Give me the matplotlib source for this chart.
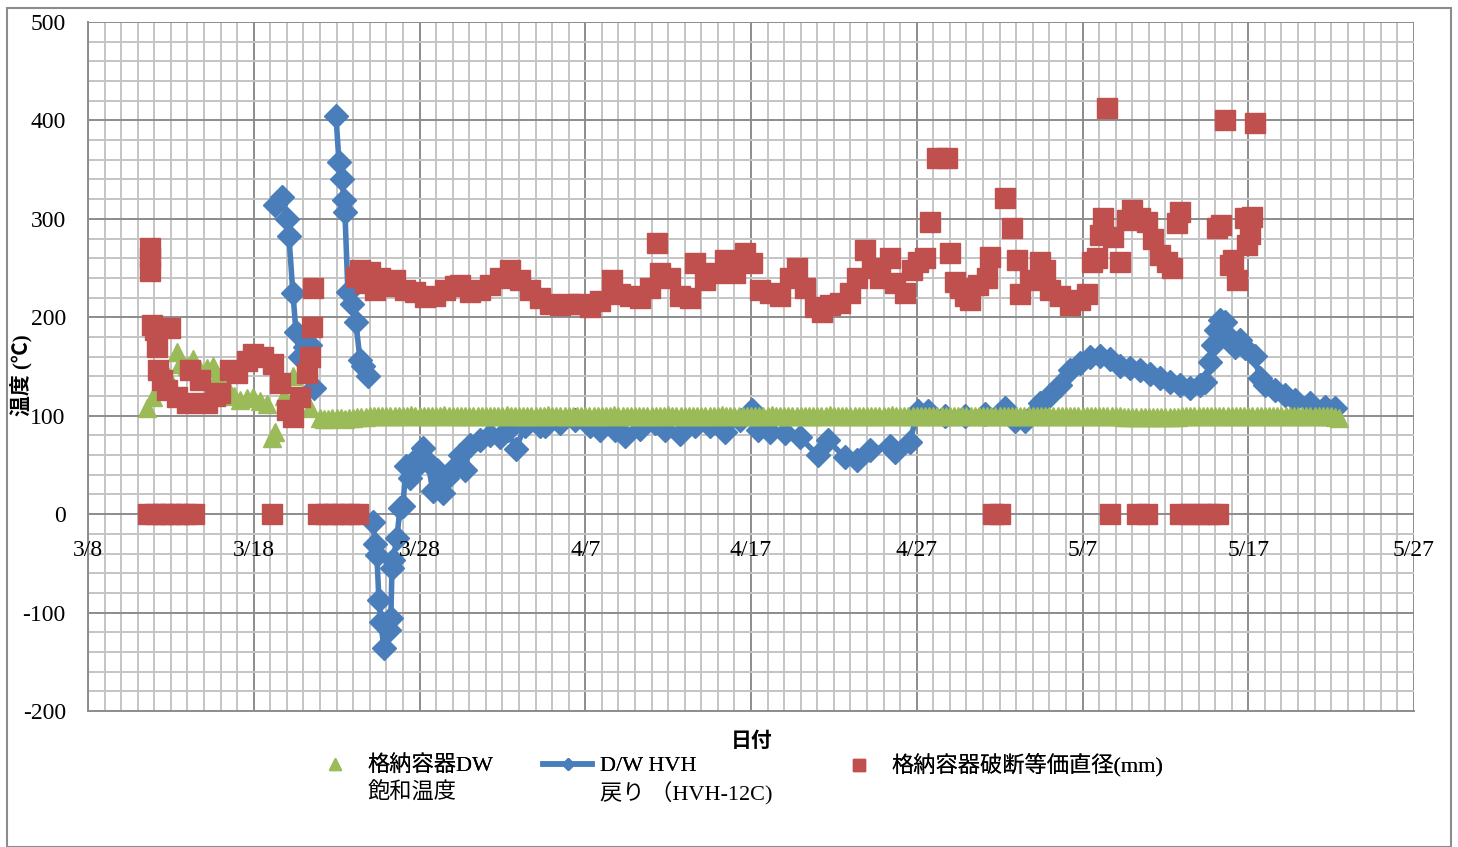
import numpy as np
import matplotlib
matplotlib.use('Agg')
import matplotlib.pyplot as plt
from matplotlib.lines import Line2D
from matplotlib.patches import Rectangle

plt.rcParams['font.family'] = ['Liberation Serif', 'Noto Sans CJK JP']
plt.rcParams['axes.unicode_minus'] = False

# x = days since 3/8 (2011)
tick_days = [0, 10, 20, 30, 40, 50, 60, 70, 80]
tick_labels = ['3/8', '3/18', '3/28', '4/7', '4/17', '4/27', '5/7', '5/17', '5/27']

# 格納容器DW飽和温度
sat_early_day = [3.56, 3.92, 4.34, 4.8, 5.37, 5.55, 6.0, 6.33, 6.75, 7.2, 7.54, 7.78,
                 8.38, 8.8, 9.17, 9.6, 9.95, 10.4, 10.8, 11.1, 11.28, 11.8, 12.36, 12.9, 13.39]
sat_early_val = [108, 119, 129, 140, 165, 153, 150, 158, 146, 148, 150, 139,
                 129, 120, 116, 118, 119, 115, 112, 77, 83, 120, 140, 120, 108]
# logged every 6 h from 3/22
sat_day = np.arange(14.0, 75.51, 0.25)
sat_val = [98, 97, 97, 98, 98, 98, 97, 98, 98, 99, 99, 99, 100, 100, 100, 100, 100, 100, 100, 100,
           100, 100, 101, 100, 100, 100, 100, 100, 100, 100, 101, 100, 100, 100, 100, 100, 100, 100, 100, 100,
           100, 100, 100, 100, 100, 101, 100, 100, 100, 100, 100, 100, 100, 100, 100, 101, 100, 100, 100, 100,
           100, 100, 100, 100, 100, 100, 100, 100, 100, 100, 100, 101, 100, 100, 100, 100, 100, 100, 100, 100,
           100, 100, 100, 100, 101, 100, 100, 100, 100, 100, 100, 100, 100, 100, 100, 100, 100, 101, 100, 100,
           100, 100, 100, 100, 100, 100, 100, 100, 100, 101, 100, 100, 100, 100, 100, 100, 100, 100, 100, 100,
           100, 100, 100, 101, 100, 100, 100, 100, 100, 100, 100, 100, 100, 100, 100, 100, 100, 100, 101, 100,
           100, 100, 100, 100, 100, 100, 100, 100, 100, 100, 100, 100, 100, 100, 100, 100, 100, 100, 100, 100,
           100, 100, 100, 100, 100, 100, 100, 100, 100, 100, 100, 100, 100, 100, 100, 100, 100, 100, 100, 100,
           100, 100, 100, 100, 100, 100, 100, 100, 100, 100, 100, 100, 100, 100, 99, 99, 99, 99, 99, 99,
           99, 99, 99, 99, 99, 99, 99, 99, 100, 100, 100, 100, 100, 100, 100, 100, 100, 100, 100, 100,
           100, 100, 100, 100, 100, 100, 100, 100, 100, 100, 100, 100, 100, 100, 100, 100, 100, 100, 100, 100,
           100, 100, 100, 100, 100, 99, 98]

# D/W HVH 戻り (HVH-12C)
hvh_day = [11.28, 11.70, 12.00, 12.12, 12.36, 12.55, 12.79, 13.09, 13.39, 13.63, np.nan,
           14.96, 15.14, 15.32, 15.44, 15.50, 15.68, 15.92, 16.16, 16.41, 16.59, 16.89, np.nan,
           17.19, 17.31, 17.43, 17.55, 17.67, 17.85, 18.15, 18.27, 18.34, 18.40, 18.64, 18.82,
           19.0, 19.18, 19.42, 19.6, 19.9, 20.2, 20.5, 20.8, 21.05, 21.41, 21.65, 22.13, 22.44,
           22.74, 23.04, 23.64, 24.25, 24.85, 25.33, 25.81, 26.36, 27.26, 27.56, 28.47, 29.37,
           30.28, 30.88, 31.79, 32.39, 33.29, 34.2, 34.8, 35.71, 36.61, 37.52, 38.42, 39.32,
           40.05, 40.41, 41.13, 42.04, 42.94, 44.03, 44.63, 45.66, 46.38, 47.17, 48.37, 48.67,
           49.58, 50.06, 50.66, 51.69, 52.9, 54.1, 55.31, 55.91, 56.51, 57.12, 57.42, 58.02,
           58.62, 59.23, 59.83, 60.43, 61.04, 61.64, 62.24, 62.85, 63.45, 64.05, 64.66, 65.26,
           65.86, 66.47, 67.07, 67.37, 67.67, 67.85, 68.03, 68.28, 68.58, 68.88, 69.18, 69.48,
           69.78, 70.39, 70.69, 70.99, 71.59, 72.2, 72.8, 73.7, 74.61, 75.21]
hvh_val = [314, 322, 300, 283, 225, 185, 160, 170, 172, 128, np.nan,
           405, 358, 340, 319, 307, 226, 214, 195, 157, 151, 140, np.nan,
           -8, -30, -42, -87, -110, -136, -118, -106, -55, -47, -24, 6,
           8, 49, 37, 45, 58, 67, 53, 24, 45, 21, 37, 48, 60,
           45, 70, 75, 80, 78, 85, 66, 90, 90, 90, 93, 96,
           90, 85, 85, 79, 87, 93, 85, 81, 90, 90, 83, 96,
           106, 85, 83, 82, 78, 60, 75, 58, 55, 65, 69, 63,
           73, 105, 105, 100, 100, 102, 108, 95, 95, 103, 113, 121,
           131, 146, 154, 160, 161, 158, 151, 148, 146, 142, 138, 134,
           131, 128, 131, 134, 155, 172, 187, 197, 195, 179, 170, 177,
           169, 161, 138, 131, 126, 121, 116, 113, 109, 108]

# 格納容器破断等価直径(mm)
brk_day = [3.74, 3.74, 3.74, 3.86, 4.04, 4.16, 4.22, 4.46, 4.76, 4.95, 5.37, 5.97, 6.15,
           6.75, 7.18, 7.66, 7.96, 8.56, 8.99, 9.59, 9.95, 10.55, 11.16, 11.58, 12.0, 12.36,
           12.79, 13.21, 13.39, 13.51, 13.57,
           16.16, 16.41, 16.7, 17.0, 17.31, 17.61, 18.09, 18.52, 19.12, 19.72, 20.33, 20.93,
           21.53, 22.13, 22.44, 23.04, 23.64, 24.25, 24.85, 25.45, 26.06, 26.66, 27.26, 27.86,
           28.47, 29.07, 29.67, 30.28, 30.88, 31.6, 32.09, 32.69, 33.29, 33.9, 34.32, 34.5,
           35.1, 35.71, 36.31, 36.61, 37.21, 37.82, 38.42, 39.02, 39.63, 40.05, 40.53, 41.13,
           41.74, 42.34, 42.76, 43.24, 43.85, 44.27, 44.75, 45.36, 45.96, 46.38, 46.86, 47.29,
           47.77, 48.37, 48.67, 49.28, 49.7, 50.06, 50.48, 50.78, 51.21, 51.81, 51.99, 52.29,
           52.59, 52.9, 53.2, 53.68, 54.22, 54.4, 55.31, 55.73, 56.03, 56.21, 56.82, 57.42,
           57.72, 58.02, 58.62, 59.23, 59.83, 60.25, 60.56, 60.86, 61.04, 61.22, 61.46, 61.82,
           62.24, 62.67, 62.97, 63.45, 63.87, 64.23, 64.66, 65.08, 65.38, 65.68, 65.86, 68.09,
           68.34, 68.58, 68.88, 69.06, 69.3, 69.78, 69.9, 70.08, 70.2, 70.39,
           3.62, 4.04, 4.52, 4.95, 5.43, 5.91, 6.39, 11.1, 13.87, 14.35, 14.84, 15.32, 15.8,
           16.28, 54.58, 55.0, 61.64, 63.27, 63.87, 65.86, 66.47, 67.07, 67.67, 68.15]
brk_val = [270, 260, 247, 192, 187, 170, 146, 136, 126, 189, 119, 113, 146,
           136, 113, 120, 123, 146, 143, 156, 163, 160, 153, 133, 106, 99,
           119, 143, 160, 190, 230,
           241, 248, 235, 246, 228, 240, 232, 238, 228, 226, 221, 222,
           228, 232, 233, 226, 228, 233, 240, 248, 238, 228, 220, 214,
           212, 213, 214, 210, 217, 238, 224, 222, 220, 230, 275, 245,
           240, 222, 220, 255, 238, 245, 258, 245, 265, 255, 228, 225,
           222, 240, 250, 230, 210, 205, 212, 215, 225, 240, 268, 250,
           240, 260, 235, 225, 248, 256, 260, 297, 362, 362, 265, 236,
           230, 222, 218, 233, 240, 261, 321, 291, 258, 224, 238, 256,
           248, 228, 222, 212, 218, 224, 256, 260, 284, 301, 413, 282,
           256, 299, 309, 301, 297, 280, 263, 256, 250, 296, 307, 291,
           294, 400, 253, 258, 238, 301, 273, 285, 302, 397,
           0, 0, 0, 0, 0, 0, 0, 0, 0, 0, 0, 0, 0,
           0, 0, 0, 0, 0, 0, 0, 0, 0, 0, 0]

green = '#9BBB59'
blue = '#4A7EBB'
red = '#C0504D'

fig = plt.figure(figsize=(14.58, 8.47), dpi=100)
ax = fig.add_axes([88 / 1458, 1 - 711 / 847, (1414 - 88) / 1458, (711 - 22) / 847])

ax.plot(hvh_day, hvh_val, color=blue, lw=4, marker='D', ms=12, mec=blue, zorder=2)
ax.plot(sat_early_day + list(sat_day), sat_early_val + sat_val, ls='none', marker='^',
        ms=13, color=green, mec=green, zorder=3)
ax.plot(brk_day, brk_val, ls='none', marker='s', ms=14, color=red, mec=red, zorder=4)

ax.set_xlim(0, 80)
ax.set_ylim(-200, 500)
ax.set_xticks(tick_days)
ax.set_xticks(np.arange(0, 81, 1), minor=True)
ax.set_yticks(np.arange(-200, 501, 100))
ax.set_yticks(np.arange(-200, 501, 20), minor=True)
ax.grid(which='major', color='#8c8c8c', lw=1.4, zorder=0)
ax.grid(which='minor', color='#c4c4c4', lw=1.4, zorder=0)
ax.set_axisbelow(True)
ax.tick_params(which='both', length=0)
ax.tick_params(axis='y', labelsize=17, pad=16)
ax.set_xticklabels([])
for s in ax.spines.values():
    s.set_color('#8c8c8c')
    s.set_linewidth(1.4)
ax.spines['top'].set_visible(False)
ax.spines['right'].set_visible(False)

# date labels sit just under the 0 line, like Excel's axis crossing
for d, lab in zip(tick_days, tick_labels):
    ax.annotate(lab, (d, 0), xytext=(0, -36), textcoords='offset pixels',
                ha='center', va='center', fontsize=17)

fig.text(22 / 1458, 1 - 375 / 847, '温度 (℃)', rotation=90, ha='center', va='center',
         fontsize=15, fontweight='bold')
fig.text(752 / 1458, 1 - 742 / 847, '日付', ha='center', va='center', fontsize=15,
         fontweight='bold')

# legend: three separate entries placed like the original, second lines as plain text
entries = [
    (Line2D([], [], ls='none', marker='^', ms=8, color=green), '格納容器DW', 313, 1.0, 0.95),
    (Line2D([], [], color=blue, lw=4, marker='D', ms=6), 'D/W HVH', 532, 2.2, 0.35),
    (Line2D([], [], ls='none', marker='s', ms=9, color=red), '格納容器破断等価直径(mm)', 837, 1.0, 0.95),
]
for h, lab, px, hl, tp in entries:
    lg = fig.legend([h], [lab], loc='center left', bbox_to_anchor=(px / 1458, 1 - 766 / 847),
                    frameon=False, fontsize=16, handlelength=hl, handletextpad=tp,
                    borderpad=0, labelspacing=0)
    fig.add_artist(lg)
fig.text(368 / 1458, 1 - 793 / 847, '飽和温度', ha='left', va='center', fontsize=16)
fig.text(600 / 1458, 1 - 793 / 847, '戻り （HVH-12C)', ha='left', va='center', fontsize=16)

fig.patches.append(Rectangle((7 / 1458, 0), (1451 - 7) / 1458, 1 - 8 / 847,
                             transform=fig.transFigure, fill=False, edgecolor='#8c8c8c',
                             lw=1.5, zorder=-1))

fig.savefig('out.png', dpi=100)
